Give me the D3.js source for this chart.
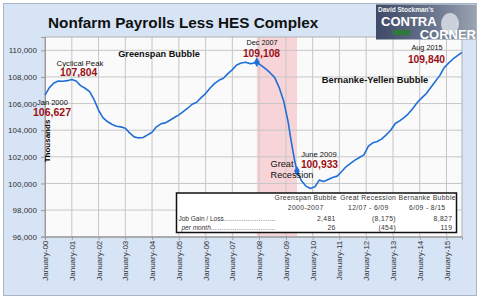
<!DOCTYPE html>
<html><head><meta charset="utf-8">
<script src="https://cdn.jsdelivr.net/npm/d3@7"></script>
<style>
html,body{margin:0;padding:0;background:#fff;}
svg{display:block;font-family:"Liberation Sans",Arial,sans-serif;}
</style></head>
<body><svg id="c" width="480" height="299"></svg>
<script>
// ---- data ----
const months = ["2000-01","2000-03","2000-05","2000-07","2000-09","2000-11","2001-01","2001-03","2001-05","2001-07","2001-09","2001-11",
"2002-01","2002-03","2002-05","2002-07","2002-09","2002-11","2003-01","2003-03","2003-05","2003-07","2003-09","2003-11",
"2004-01","2004-03","2004-05","2004-07","2004-09","2004-11","2005-01","2005-03","2005-05","2005-07","2005-09","2005-11",
"2006-01","2006-03","2006-05","2006-07","2006-09","2006-11","2007-01","2007-03","2007-05","2007-07","2007-09","2007-10","2007-12",
"2008-02","2008-04","2008-06","2008-08","2008-10","2008-12","2009-02","2009-03","2009-04","2009-05","2009-06","2009-08","2009-10","2009-12",
"2010-02","2010-04","2010-06","2010-08","2010-10","2010-12","2011-02","2011-04","2011-06","2011-08","2011-10","2011-12",
"2012-02","2012-04","2012-06","2012-08","2012-10","2012-12","2013-02","2013-04","2013-06","2013-08","2013-10","2013-12",
"2014-02","2014-04","2014-06","2014-08","2014-10","2014-12","2015-02","2015-04","2015-06","2015-08"];
const payrolls = [106627,107200,107550,107700,107680,107720,107804,107700,107350,107150,106900,106300,
105500,104950,104650,104450,104300,104250,104150,103800,103500,103420,103450,103650,
103850,104250,104480,104550,104750,104950,105150,105400,105650,105950,106100,106450,
106750,107150,107500,107750,107900,108250,108550,108900,109050,109100,109000,109020,109108,
108850,108600,108300,107950,107200,106200,104600,103600,102600,101700,100933,100200,99800,99620,
99750,100250,100150,100300,100450,100550,100900,101250,101500,101750,101950,102150,
102800,103050,103150,103350,103650,104000,104500,104700,104950,105250,105650,106100,
106450,106750,107200,107650,108100,108700,109050,109350,109600,109840];
const yTicks = [96000,98000,100000,102000,104000,106000,108000,110000];
const xTickYears = d3.range(2000,2016);
const recession = ["2007-12","2009-06"];
const markerMonths = ["2007-12","2009-06"];
const tableCols = ["Greenspan Bubble","Great Recession","Bernanke Bubble"];
const tablePeriods = ["2000-2007","12/07 - 6/09","6/09 - 8/15"];
const jobGain = ["2,481","(8,175)","8,827"];
const perMonth = ["26","(454)","119"];

const parse = d3.timeParse("%Y-%m");
const data = months.map((m,i)=>({d:parse(m), v:payrolls[i]}));

const svg = d3.select("#c");
// outer frame
svg.append("rect").attr("x",3.5).attr("y",3.5).attr("width",473).attr("height",292)
  .attr("fill","#d6e4f6").attr("stroke","#a9b4c2");

const L=45, R=462, T=37, B=236.7;
const x = d3.scaleTime().domain([parse("2000-01"), parse("2015-08")]).range([L,R]);
const y = d3.scaleLinear().domain([96000,111000]).range([B,T]);

svg.append("rect").attr("x",L).attr("y",T).attr("width",R-L).attr("height",B-T).attr("fill","#fafafa");
// recession shading
svg.append("rect").attr("x",x(parse(recession[0]))).attr("y",T)
  .attr("width",x(parse(recession[1]))-x(parse(recession[0]))).attr("height",B-T)
  .attr("fill","#f7d4d7");
// gridlines
const g = svg.append("g").attr("stroke","#c6c6c6").attr("stroke-width",1);
yTicks.forEach(t=>g.append("line").attr("x1",L).attr("x2",R).attr("y1",y(t)).attr("y2",y(t)));
xTickYears.forEach(yr=>{const xx=x(new Date(yr,0,1));
  g.append("line").attr("x1",xx).attr("x2",xx).attr("y1",T).attr("y2",B);});
svg.append("rect").attr("x",L).attr("y",T).attr("width",R-L).attr("height",B-T)
  .attr("fill","none").attr("stroke","#b0b0b0");

// y axis
const yAx = svg.append("g").attr("transform",`translate(${L},0)`)
  .call(d3.axisLeft(y).tickValues(yTicks).tickFormat(d3.format(",")).tickSize(4));
yAx.select(".domain").attr("stroke","#999");
yAx.selectAll(".tick line").attr("stroke","#999");
yAx.selectAll("text").attr("font-size",8).attr("fill","#333").attr("x",-8)
  .attr("font-family","Liberation Sans, Arial");
// x axis
const xAx = svg.append("g").attr("transform",`translate(0,${B})`)
  .call(d3.axisBottom(x).tickValues(xTickYears.map(yr=>new Date(yr,0,1)))
  .tickFormat(d=>"January-"+d3.timeFormat("%y")(d)).tickSize(3));
xAx.select(".domain").attr("stroke","#999");
xAx.selectAll(".tick line").attr("stroke","#999");
xAx.selectAll("text").attr("font-size",8).attr("fill","#333")
  .attr("font-family","Liberation Sans, Arial")
  .attr("text-anchor","end").attr("transform","rotate(-90)")
  .attr("x",-4).attr("y",0).attr("dy","0.32em");

// line
svg.append("path").datum(data).attr("fill","none").attr("stroke","#1f6fd6").attr("stroke-width",1.6)
  .attr("stroke-linejoin","round")
  .attr("d",d3.line().x(d=>x(d.d)).y(d=>y(d.v)));
markerMonths.forEach(m=>{const p=data.find(d=>+d.d===+parse(m));
  svg.append("path").attr("d",d3.symbol(d3.symbolDiamond,28)())
   .attr("transform",`translate(${x(p.d)},${y(p.v)})`).attr("fill","#1f6fd6");});

// Thousands label
svg.append("text").attr("transform",`translate(50,141) rotate(-90)`).attr("text-anchor","middle")
  .attr("font-size",8).attr("font-weight","bold").text("Thousands");

// annotations
function txt(xx,yy,s,size,opts={}){
  return svg.append("text").attr("x",xx).attr("y",yy).attr("font-size",size)
   .attr("font-weight",opts.bold?"bold":"normal").attr("fill",opts.fill||"#111")
   .attr("text-anchor",opts.anchor||"start").text(s);
}
const red="#9c1015";
txt(80,65.5,"Cyclical Peak",7.8,{anchor:"middle"});
txt(78.7,76,"107,804",10.3,{anchor:"middle",bold:true,fill:red});
txt(37,104.7,"Jan 2000",7.5);
txt(52,116,"106,627",10.5,{anchor:"middle",bold:true,fill:red});
txt(159,57.3,"Greenspan Bubble",9.2,{anchor:"middle",bold:true});
txt(262,44.7,"Dec 2007",7.3,{anchor:"middle"});
txt(261.5,57,"109,108",10.3,{anchor:"middle",bold:true,fill:red});
txt(427,49.7,"Aug 2015",7.3,{anchor:"middle"});
txt(426.5,63,"109,840",10.3,{anchor:"middle",bold:true,fill:red});
txt(375,83.3,"Bernanke-Yellen Bubble",9.3,{anchor:"middle",bold:true});
txt(319,156.7,"June 2009",7.6,{anchor:"middle"});
txt(319.5,168,"100,933",10.3,{anchor:"middle",bold:true,fill:red});
txt(270.5,167.3,"Great",9.2);
txt(270.5,177.6,"Recession",9.2);

// table
svg.append("rect").attr("x",176.5).attr("y",193).attr("width",280).attr("height",39.5)
  .attr("fill","#fff").attr("stroke","#111").attr("stroke-width",1.5);
const colC=[305.7,368.3,427.3], colR=[335.7,396,452.3];
tableCols.forEach((c,i)=>{
  txt(colC[i],200,c,6.8,{anchor:"middle"}).attr("letter-spacing",0.35).attr("fill","#333");
  txt(colC[i],210,tablePeriods[i],6.8,{anchor:"middle"}).attr("letter-spacing",0.35).attr("fill","#333");
  txt(colR[i],221,jobGain[i],6.8,{anchor:"end"}).attr("letter-spacing",0.35).attr("fill","#333");
  txt(colR[i],230,perMonth[i],6.8,{anchor:"end"}).attr("letter-spacing",0.35).attr("fill","#333");
});
txt(178.5,221,"Job Gain / Loss……………………",6.5).attr("fill","#333");
txt(181.5,230,"per month…………………………",6.5).attr("font-style","italic").attr("fill","#333");

// title
txt(48,28,"Nonfarm Payrolls Less HES Complex",15.3,{bold:true});

// logo
const lg = svg.append("g");
const grad = svg.append("defs").append("linearGradient").attr("id","lg").attr("x1",0).attr("x2",1);
grad.append("stop").attr("offset",0).attr("stop-color","#3e4a66");
grad.append("stop").attr("offset",0.6).attr("stop-color","#6c7890");
grad.append("stop").attr("offset",1).attr("stop-color","#9aa3b2");
lg.append("rect").attr("x",376).attr("y",4.5).attr("width",100).attr("height",35).attr("fill","url(#lg)");
lg.append("ellipse").attr("cx",450).attr("cy",24).attr("rx",9).attr("ry",11).attr("fill","#dfe3ea").attr("opacity",0.8);
lg.append("rect").attr("x",393).attr("y",30).attr("width",17).attr("height",5).attr("fill","#2f7a3a");
lg.append("text").attr("x",378).attr("y",11.5).attr("font-size",6.5).attr("font-weight","bold").attr("fill","#f2f2f2").text("David Stockman's");
lg.append("text").attr("x",381).attr("y",25.5).attr("font-size",13).attr("font-weight","bold").attr("fill","#fff").text("CONTRA");
lg.append("text").attr("x",476).attr("y",38.5).attr("font-size",13).attr("font-weight","bold").attr("fill","#fff").attr("text-anchor","end").text("CORNER");
</script></body></html>
